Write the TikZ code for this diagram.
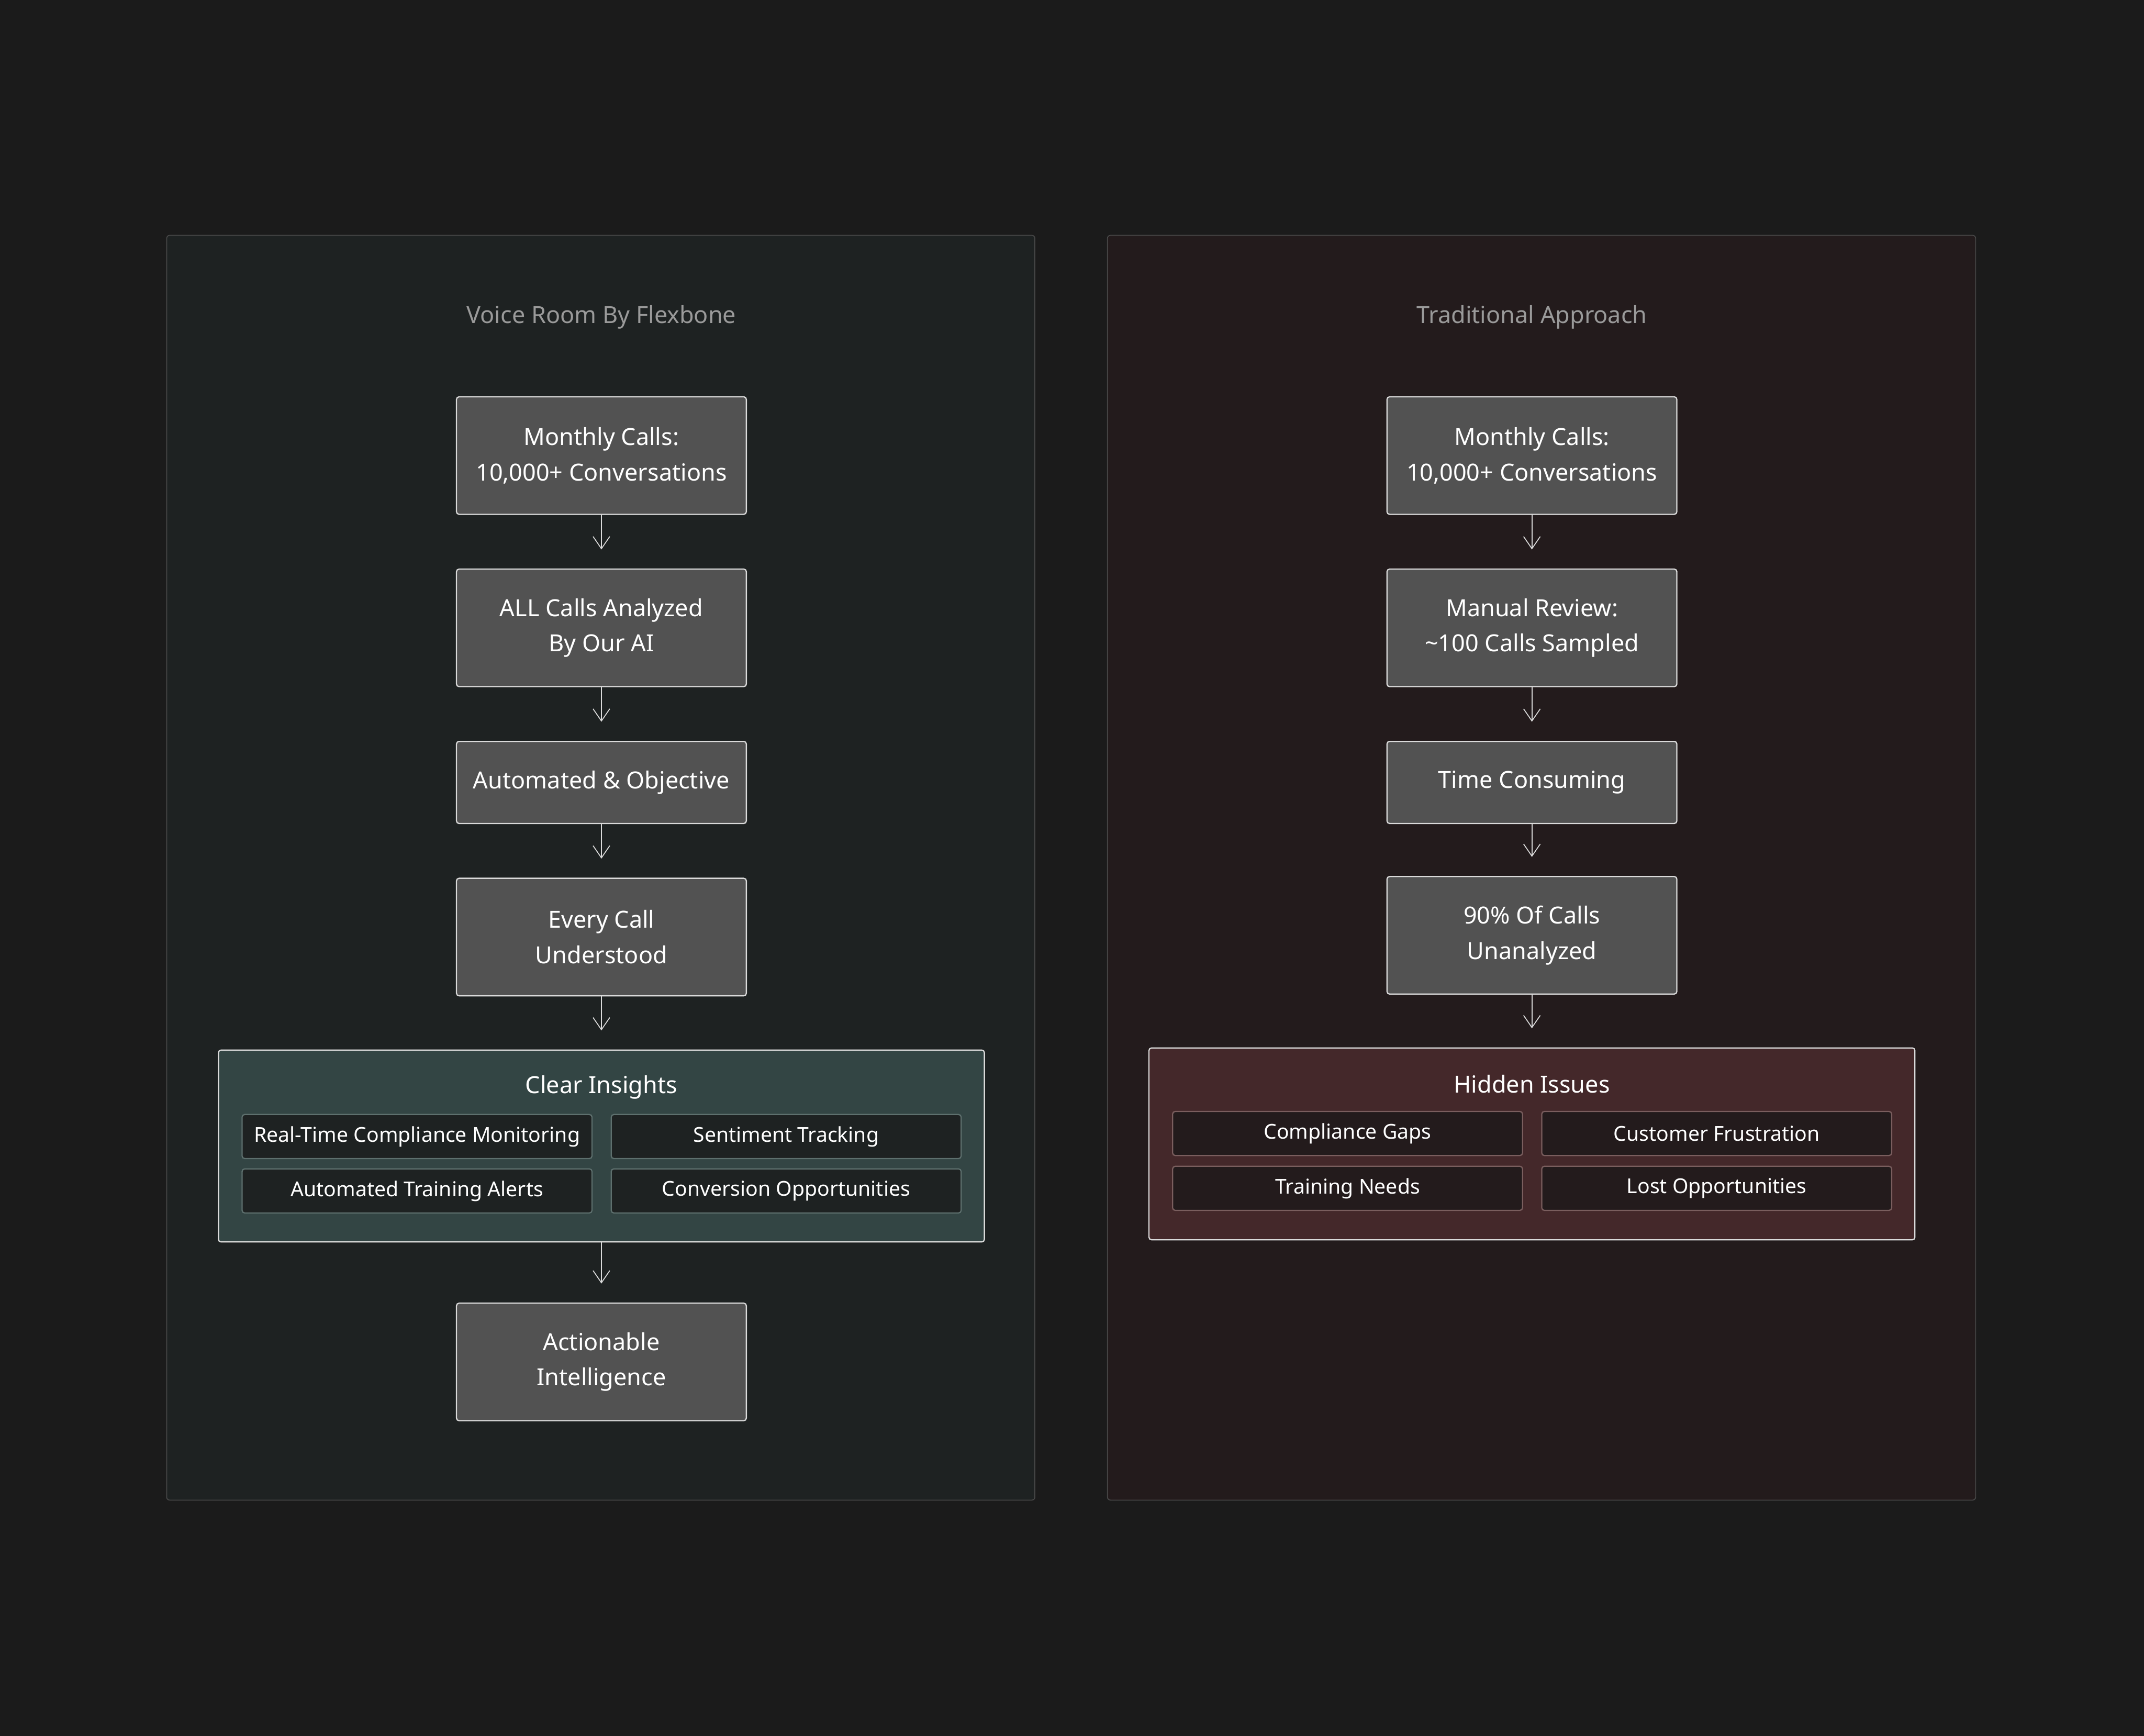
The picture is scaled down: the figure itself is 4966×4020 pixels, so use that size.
\documentclass[tikz,border=0pt]{standalone}
\usepackage{fontspec}
\setmainfont{Noto Sans}
\usetikzlibrary{arrows.meta}

\definecolor{pagebg}{HTML}{1B1B1B}
\definecolor{goodbg}{HTML}{1E2222}
\definecolor{badbg}{HTML}{231B1C}
\definecolor{panelline}{HTML}{484848}
\definecolor{stepfill}{HTML}{525252}
\definecolor{stepline}{HTML}{DADADA}
\definecolor{goodgroup}{HTML}{334544}
\definecolor{badgroup}{HTML}{44282A}
\definecolor{goodtag}{HTML}{5E706E}
\definecolor{badtag}{HTML}{7A5E5E}
\definecolor{titlegrey}{HTML}{9A9A9A}

\tikzset{
  panel/.style={draw=panelline,line width=0.6pt,rounded corners=2pt},
  paneltitle/.style={text=titlegrey,font=\fontsize{15.5}{19}\selectfont},
  stepbox/.style={draw=stepline,fill=stepfill,line width=0.8pt,rounded corners=1.7pt,
    minimum width=6.71cm,minimum height=2.72cm,inner sep=0pt,align=center,
    text=white,font=\fontsize{15.5}{23.3}\selectfont},
  shortbox/.style={stepbox,minimum height=1.9cm},
  groupbox/.style={draw=stepline,line width=0.8pt,rounded corners=1.7pt,
    minimum width=17.73cm,minimum height=4.44cm,inner sep=0pt},
  grouptitle/.style={text=white,font=\fontsize{15.5}{19}\selectfont},
  tagbox/.style={line width=0.8pt,rounded corners=1.7pt,minimum width=8.1cm,
    minimum height=1.02cm,inner sep=0pt,text=white,font=\fontsize{13.5}{16}\selectfont},
  flow/.style={draw=stepline,line width=0.6pt,->,shorten >=0.44cm}
}

\begin{document}
\begin{tikzpicture}[x=0.01cm,y=-0.01cm,line cap=round,
  >={Straight Barb[length=8pt,width=11pt]}]
  \fill[pagebg] (0,0) rectangle (4966,4020);
  \useasboundingbox (0,0) rectangle (4966,4020);

  % the two panels
  \draw[panel,fill=goodbg] (386,545) rectangle (2397,3474);
  \draw[panel,fill=badbg] (2565,545) rectangle (4576,3474);

  % Voice Room
  \node[paneltitle] (gtitle) at (1393,735) {Voice Room By Flexbone};
  \node[stepbox] (g1) at (1393,1055) {Monthly Calls:\\10,000+ Conversations};
  \node[stepbox] (g2) at (1393,1454) {ALL Calls Analyzed\\By Our AI};
  \node[shortbox] (g3) at (1393,1812) {Automated \& Objective};
  \node[stepbox] (g4) at (1393,2170) {Every Call\\Understood};
  \node[groupbox,fill=goodgroup] (gins) at (1393,2654) {};
  \node[grouptitle] (ginstitle) at (1393,2518) {Clear Insights};
  \node[tagbox,draw=goodtag,fill=goodbg] (gtag1) at (966,2632) {Real-Time Compliance Monitoring};
  \node[tagbox,draw=goodtag,fill=goodbg] (gtag2) at (1821,2632) {Sentiment Tracking};
  \node[tagbox,draw=goodtag,fill=goodbg] (gtag3) at (966,2758) {Automated Training Alerts};
  \node[tagbox,draw=goodtag,fill=goodbg] (gtag4) at (1821,2758) {Conversion Opportunities};
  \node[stepbox] (g5) at (1393,3154) {Actionable\\Intelligence};
  \draw[flow] (g1) -- (g2);
  \draw[flow] (g2) -- (g3);
  \draw[flow] (g3) -- (g4);
  \draw[flow] (g4) -- (gins);
  \draw[flow] (gins) -- (g5);

  % Traditional
  \begin{scope}[xshift=21.54cm]
    \node[paneltitle] (btitle) at (1393,735) {Traditional Approach};
    \node[stepbox] (b1) at (1393,1055) {Monthly Calls:\\10,000+ Conversations};
    \node[stepbox] (b2) at (1393,1454) {Manual Review:\\\textasciitilde100 Calls Sampled};
    \node[shortbox] (b3) at (1393,1812) {Time Consuming};
    \node[stepbox] (b4) at (1393,2166) {90\% Of Calls\\Unanalyzed};
    \node[groupbox,fill=badgroup] (bhid) at (1393,2649) {};
    \node[grouptitle] (bhidtitle) at (1393,2511) {Hidden Issues};
    \node[tagbox,draw=badtag,fill=badbg] (btag1) at (966,2625) {Compliance Gaps};
    \node[tagbox,draw=badtag,fill=badbg] (btag2) at (1821,2625) {Customer Frustration};
    \node[tagbox,draw=badtag,fill=badbg] (btag3) at (966,2752) {Training Needs};
    \node[tagbox,draw=badtag,fill=badbg] (btag4) at (1821,2752) {Lost Opportunities};
    \draw[flow] (b1) -- (b2);
    \draw[flow] (b2) -- (b3);
    \draw[flow] (b3) -- (b4);
    \draw[flow] (b4) -- (bhid);
  \end{scope}
\end{tikzpicture}
\end{document}
